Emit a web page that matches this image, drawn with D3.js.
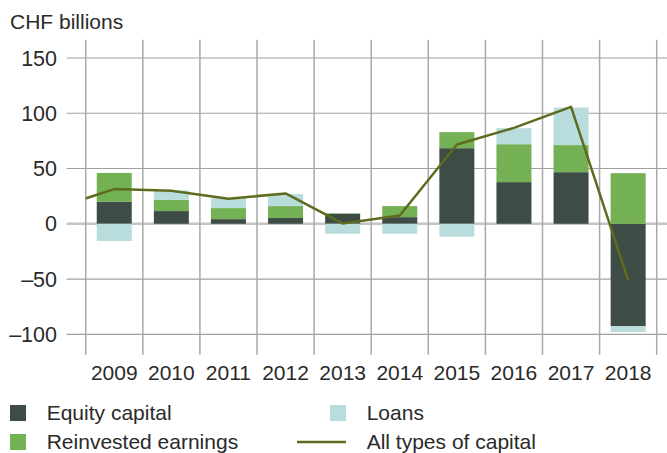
<!DOCTYPE html>
<html>
<head>
<meta charset="utf-8">
<script src="https://cdn.jsdelivr.net/npm/d3@7"></script>
<style>
  body { margin: 0; background: #fff; }
  text { font-family: "Liberation Sans", Arial, sans-serif; fill: #2a2a2a; }
</style>
</head>
<body>
<div id="chart"></div>
<script>
// Data (CHF billions)
const years = ["2009", "2010", "2011", "2012", "2013", "2014", "2015", "2016", "2017", "2018"];
const equity = [20, 11.5, 4.2, 5.2, 9, 6, 68.4, 37.7, 46.7, -92.5];
const reinvested = [26, 10.2, 10, 10.8, 0.5, 10, 14.5, 34.3, 24.5, 45.8];
const loans = [-15.6, 8.5, 9, 10.9, -9, -9, -11.7, 14.5, 34, -5.4];
// line includes the 2008 value, which is clipped at the left edge
const lineYears = ["2008", "2009", "2010", "2011", "2012", "2013", "2014", "2015", "2016", "2017", "2018"];
const allCapital = [14.6, 31.4, 29.8, 22.6, 27.5, 0.3, 7.5, 71.8, 86.8, 105.8, -50.9];
const yTicks = [-100, -50, 0, 50, 100, 150];

const colors = { equity: "#3d4c44", reinvested: "#74b054", loans: "#b9dddd", line: "#5f6b1f" };

const W = 667, H = 453;
const svg = d3.select("#chart").append("svg")
  .attr("width", W)
  .attr("height", H);

const x = d3.scaleBand()
  .domain(years)
  .range([85.7, 656.7])
  .paddingInner(0)
  .paddingOuter(0);

const y = d3.scaleLinear()
  .domain([-100, 150])
  .range([334.3, 58]);

const barW = 35;

// Horizontal gridlines
svg.append("g")
  .selectAll("line")
  .data(yTicks)
  .enter()
  .append("line")
  .attr("x1", 66.7)
  .attr("x2", W)
  .attr("y1", d => y(d))
  .attr("y2", d => y(d))
  .attr("stroke", d => d === 0 ? "#c4c4c4" : "#a0a0a0")
  .attr("stroke-width", d => d === 0 ? 2.5 : 1.2);

// Vertical gridlines at band boundaries
const bounds = years.map(d => x(d)).concat([x(years[years.length - 1]) + x.bandwidth()]);
svg.append("g")
  .selectAll("line")
  .data(bounds)
  .enter()
  .append("line")
  .attr("x1", d => d)
  .attr("x2", d => d)
  .attr("y1", y(166.5))
  .attr("y2", y(-118.5))
  .attr("stroke", "#a8a8a8")
  .attr("stroke-width", 1.5);

// Y tick labels
svg.append("g")
  .selectAll("text")
  .data(yTicks)
  .enter()
  .append("text")
  .attr("x", 57)
  .attr("y", d => y(d))
  .attr("dy", "0.35em")
  .attr("text-anchor", "end")
  .attr("font-size", "21.5px")
  .text(d => d < 0 ? "\u2013" + Math.abs(d) : d);

// Year labels
svg.append("g")
  .selectAll("text")
  .data(years)
  .enter()
  .append("text")
  .attr("x", d => x(d) + x.bandwidth() / 2)
  .attr("y", 380)
  .attr("text-anchor", "middle")
  .attr("font-size", "21px")
  .text(d => d);

// Unit label
svg.append("text")
  .attr("x", 10)
  .attr("y", 29.3)
  .attr("font-size", "21px")
  .text("CHF billions");

// Stacked bars: positives stack upward, negatives downward
const series = [
  { key: "equity", values: equity },
  { key: "reinvested", values: reinvested },
  { key: "loans", values: loans }
];

const segments = [];
years.forEach(function(yr, i) {
  let pos = 0, neg = 0;
  series.forEach(function(s) {
    const v = s.values[i];
    if (v >= 0) {
      segments.push({ year: yr, key: s.key, y0: pos, y1: pos + v });
      pos += v;
    } else {
      segments.push({ year: yr, key: s.key, y0: neg + v, y1: neg });
      neg += v;
    }
  });
});

svg.append("g")
  .selectAll("rect")
  .data(segments)
  .enter()
  .append("rect")
  .attr("x", d => x(d.year) + (x.bandwidth() - barW) / 2)
  .attr("width", barW)
  .attr("y", d => y(d.y1))
  .attr("height", d => y(d.y0) - y(d.y1))
  .attr("fill", d => colors[d.key]);

// Line for all types of capital
svg.append("clipPath")
  .attr("id", "plot-clip")
  .append("rect")
  .attr("x", x.range()[0])
  .attr("y", 0)
  .attr("width", x.range()[1] - x.range()[0])
  .attr("height", H);

const lineX = d3.scaleLinear()
  .domain([2009, 2018])
  .range([x("2009") + x.bandwidth() / 2, x("2018") + x.bandwidth() / 2]);

const line = d3.line()
  .x((d, i) => lineX(+lineYears[i]))
  .y(d => y(d));

svg.append("path")
  .datum(allCapital)
  .attr("clip-path", "url(#plot-clip)")
  .attr("fill", "none")
  .attr("stroke", colors.line)
  .attr("stroke-width", 2.5)
  .attr("stroke-linejoin", "round")
  .attr("d", line);

// Legend
const legend = svg.append("g");
const legendItems = [
  { label: "Equity capital", key: "equity", x: 10, y: 405, type: "rect" },
  { label: "Reinvested earnings", key: "reinvested", x: 10, y: 434, type: "rect" },
  { label: "Loans", key: "loans", x: 330, y: 405, type: "rect" },
  { label: "All types of capital", key: "line", x: 297, y: 434, type: "line" }
];

legendItems.forEach(function(item) {
  if (item.type === "rect") {
    legend.append("rect")
      .attr("x", item.x)
      .attr("y", item.y)
      .attr("width", 16)
      .attr("height", 16)
      .attr("fill", colors[item.key]);
  } else {
    legend.append("line")
      .attr("x1", item.x)
      .attr("x2", 346)
      .attr("y1", item.y + 8)
      .attr("y2", item.y + 8)
      .attr("stroke", colors.line)
      .attr("stroke-width", 2.5);
  }
  legend.append("text")
    .attr("x", item.type === "rect" ? item.x + 36.7 : 366.7)
    .attr("y", item.y + 15)
    .attr("font-size", "21px")
    .text(item.label);
});
</script>
</body>
</html>
